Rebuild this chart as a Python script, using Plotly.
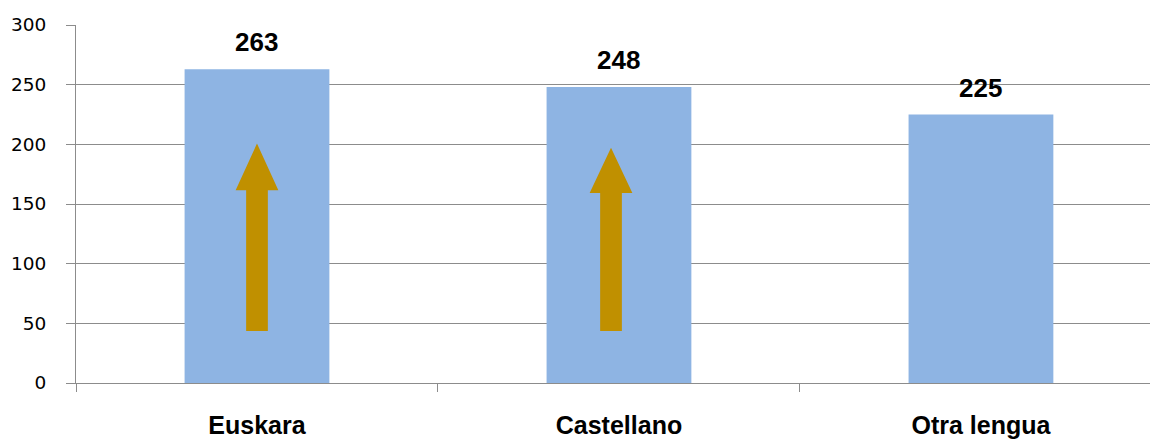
import plotly.graph_objects as go

categories = ["Euskara", "Castellano", "Otra lengua"]
values = [263, 248, 225]
value_labels = ["263", "248", "225"]

# Arrows drawn inside the first two bars (category index, data units)
arrow_x = [0.0, 0.978]
arrow_tip = [200.7, 197.2]
arrow_head_base = [161.6, 159.2]
arrow_bottom = [43.5, 43.5]
arrow_shaft_half = 0.030
arrow_head_half = 0.059

y_ticks = [0, 50, 100, 150, 200, 250, 300]

BAR = "#8EB4E3"
ARROW = "#C09000"
GRID = "#8C8C8C"
FONT = "Liberation Sans, Arial, sans-serif"
TICKFONT = "DejaVu Sans, sans-serif"

fig = go.Figure()
fig.add_trace(go.Bar(
    x=categories, y=values, width=0.4,
    marker=dict(color=BAR, line=dict(width=0)),
    hoverinfo="x+y", showlegend=False,
))

for c, v, t in zip(categories, values, value_labels):
    fig.add_annotation(x=c, y=v, text=f"<b>{t}</b>", showarrow=False,
                       yshift=27, yanchor="middle",
                       font=dict(family=FONT, size=26, color="#000000"))

for xc, tip, hb, bot in zip(arrow_x, arrow_tip, arrow_head_base, arrow_bottom):
    path = (f"M {xc - arrow_shaft_half},{bot} L {xc + arrow_shaft_half},{bot} "
            f"L {xc + arrow_shaft_half},{hb} L {xc + arrow_head_half},{hb} "
            f"L {xc},{tip} L {xc - arrow_head_half},{hb} "
            f"L {xc - arrow_shaft_half},{hb} Z")
    fig.add_shape(type="path", path=path, xref="x", yref="y",
                  fillcolor=ARROW, line=dict(width=0), layer="above")

fig.update_layout(
    width=1150, height=439,
    margin=dict(l=76, r=0, t=25, b=54),
    paper_bgcolor="white", plot_bgcolor="white",
    font=dict(family=FONT, size=16, color="#000000"),
    xaxis=dict(
        type="category", range=[-0.5, 2.467],
        tickson="boundaries", ticks="outside", ticklen=8, tickcolor=GRID,
        showgrid=False, showline=True, linecolor=GRID, linewidth=1,
        tickfont=dict(family=FONT, size=25, color="#000000"),
        ticklabelstandoff=20,
        tickvals=categories, ticktext=[f"<b>{c}</b>" for c in categories],
    ),
    yaxis=dict(
        range=[0, 300], tickvals=y_ticks,
        ticks="outside", ticklen=9, tickcolor=GRID,
        showgrid=True, gridcolor=GRID, gridwidth=1,
        showline=True, linecolor=GRID, linewidth=1,
        zeroline=False, ticklabelstandoff=16,
        tickfont=dict(family=TICKFONT, size=18.5, color="#000000"),
    ),
    bargap=0.6,
)

fig.write_html(
    "out.html",
    config={"displayModeBar": False},
    post_script="document.body.style.margin='0';document.body.style.overflow='hidden';",
)
